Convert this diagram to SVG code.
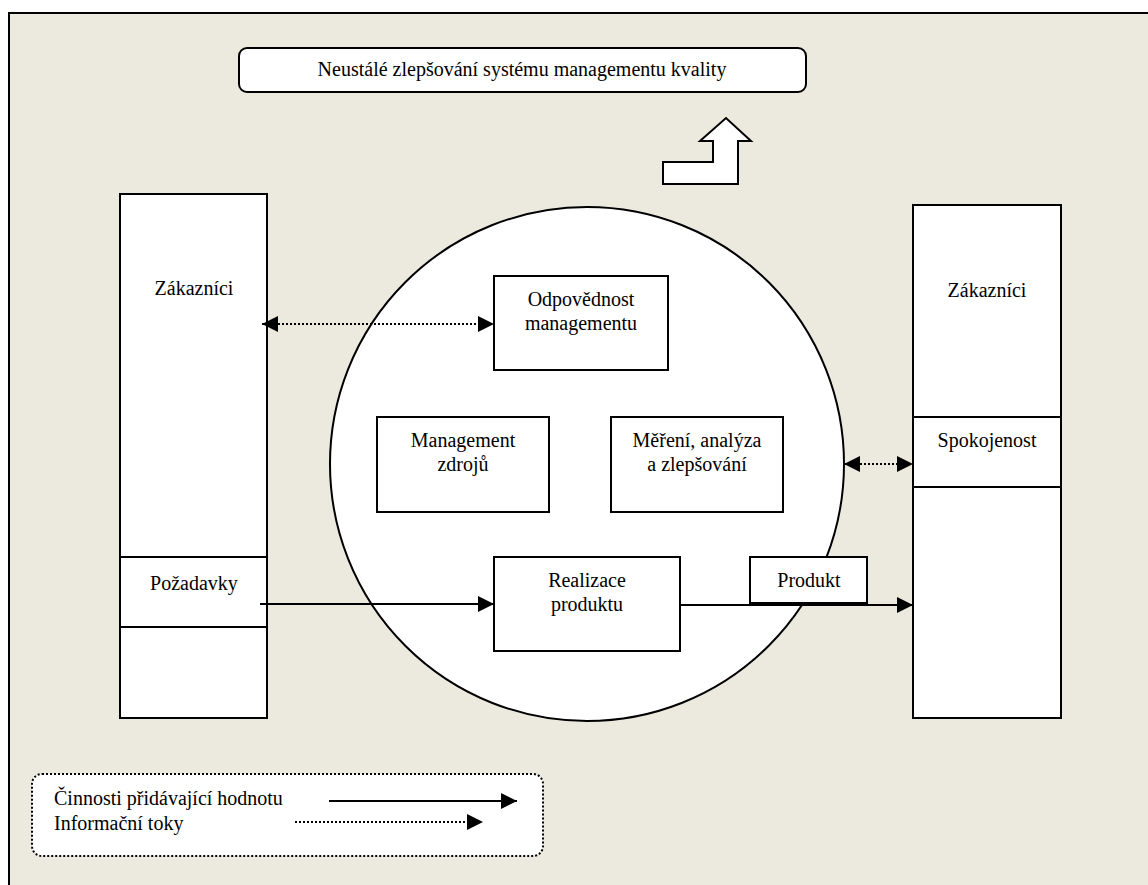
<svg xmlns="http://www.w3.org/2000/svg" width="1148" height="885" viewBox="0 0 1148 885">
  <style>
    .t { font-family: "Liberation Serif", "Times New Roman", serif; font-size: 20px; fill: #000; text-anchor: middle; }
    .tl { font-family: "Liberation Serif", "Times New Roman", serif; font-size: 20px; fill: #000; }
    .box { fill: #fff; stroke: #000; stroke-width: 2; }
    .solid { fill: none; stroke: #000; stroke-width: 2.2; }
    .dot { fill: none; stroke: #000; stroke-width: 2; stroke-dasharray: 2 2; }
  </style>
  <defs>
    <marker id="ah" markerUnits="userSpaceOnUse" markerWidth="16" markerHeight="16" refX="16" refY="8" orient="auto-start-reverse" viewBox="0 0 16 16">
      <path d="M0,0 L16,8 L0,16 Z" fill="#000"/>
    </marker>
  </defs>
  <rect width="1148" height="885" fill="#fff"/>
  <g id="frame">
    <rect x="9" y="13" width="1150" height="890" fill="#ECE9DF" stroke="#000" stroke-width="2"/>
  </g>
  <g id="title">
    <rect x="239" y="48" width="567" height="44" rx="8" class="box" stroke-width="1.5"/>
    <text x="522" y="76" class="t">Neustálé zlepšování systému managementu kvality</text>
  </g>
  <g id="block-arrow">
    <path d="M663,162 L713,162 L713,141 L700,141 L726,118 L751,141 L738,141 L738,184 L663,184 Z" fill="#fff" stroke="#000" stroke-width="2"/>
  </g>
  <g id="left-customers">
    <rect x="120" y="194" width="147" height="524" class="box"/>
    <line x1="120" y1="557" x2="267" y2="557" stroke="#000" stroke-width="2"/>
    <line x1="120" y1="627" x2="267" y2="627" stroke="#000" stroke-width="2"/>
    <text x="194" y="295" class="t">Zákazníci</text>
    <text x="194" y="590" class="t">Požadavky</text>
  </g>
  <g id="right-customers">
    <rect x="913" y="205" width="148" height="513" class="box"/>
    <line x1="913" y1="417" x2="1061" y2="417" stroke="#000" stroke-width="2"/>
    <line x1="913" y1="487" x2="1061" y2="487" stroke="#000" stroke-width="2"/>
    <text x="987" y="297" class="t">Zákazníci</text>
    <text x="987" y="447" class="t">Spokojenost</text>
  </g>
  <g id="circle">
    <circle cx="587" cy="464" r="257" fill="#fff" stroke="#000" stroke-width="2"/>
  </g>
  <g id="odpovednost">
    <rect x="494" y="276" width="174" height="94" class="box"/>
    <text x="581" y="306" class="t">Odpovědnost</text>
    <text x="581" y="330" class="t">managementu</text>
  </g>
  <g id="zdroje">
    <rect x="377" y="417" width="172" height="95" class="box"/>
    <text x="463" y="447" class="t">Management</text>
    <text x="463" y="471" class="t">zdrojů</text>
  </g>
  <g id="mereni">
    <rect x="611" y="417" width="172" height="95" class="box"/>
    <text x="697" y="447" class="t">Měření, analýza</text>
    <text x="697" y="471" class="t">a zlepšování</text>
  </g>
  <g id="realizace">
    <rect x="494" y="557" width="186" height="94" class="box"/>
    <text x="587" y="587" class="t">Realizace</text>
    <text x="587" y="611" class="t">produktu</text>
  </g>
  <g id="produkt">
    <rect x="750" y="557" width="117" height="46" class="box"/>
    <text x="809" y="587" class="t">Produkt</text>
  </g>
  <g id="connectors">
    <line x1="262" y1="324" x2="494" y2="324" class="dot" marker-start="url(#ah)" marker-end="url(#ah)"/>
    <line x1="844" y1="464" x2="913" y2="464" class="dot" marker-start="url(#ah)" marker-end="url(#ah)"/>
    <line x1="260" y1="604" x2="494" y2="604" class="solid" marker-end="url(#ah)"/>
    <line x1="680" y1="605" x2="913" y2="605" class="solid" marker-end="url(#ah)"/>
  </g>
  <g id="legend">
    <rect x="32" y="774" width="511" height="82" rx="10" fill="#fff" stroke="#000" stroke-width="2" stroke-dasharray="2 2"/>
    <text x="54" y="805" class="tl">Činnosti přidávající hodnotu</text>
    <text x="54" y="830" class="tl">Informační toky</text>
    <line x1="329" y1="801" x2="517" y2="801" class="solid" marker-end="url(#ah)"/>
    <line x1="295" y1="822" x2="483" y2="822" class="dot" marker-end="url(#ah)"/>
  </g>
</svg>
